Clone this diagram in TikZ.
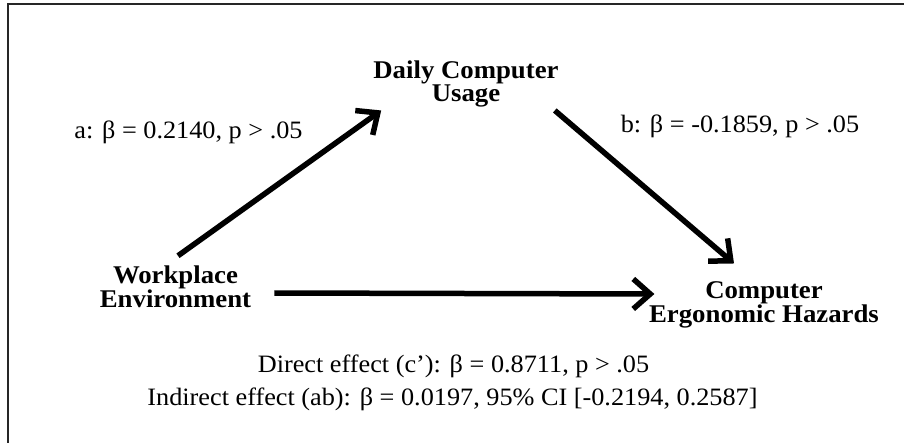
\documentclass[tikz,border=0pt]{standalone}
\usepackage{fontspec}
\setmainfont{Liberation Serif}[FakeStretch=1.05]
\usetikzlibrary{arrows.meta,positioning}

\begin{document}
\begin{tikzpicture}[x=1pt,y=-1pt,
    var/.style={font=\fontsize{25.5}{22}\selectfont\bfseries,
                align=center,inner sep=3pt},
    coef/.style={font=\fontsize{25}{33}\selectfont,inner sep=0pt},
    arr/.style={-{Straight Barb[length=17pt,width=30pt]},line width=5.5pt},
]

\useasboundingbox (0,0) rectangle (904,443);

% ---- Frame ----------------------------------------------------------------
\draw[line width=2pt,black!85] (8,4) rectangle (930,470);

% ---- Variables ------------------------------------------------------------
\node[var] (usage) at (466,84)    {Daily Computer\\Usage};
\node[var] (env)   at (175.5,287) {Workplace\\Environment};
\node[var] (haz)   at (764,305)   {Computer\\Ergonomic Hazards};

% ---- Paths ----------------------------------------------------------------
\draw[arr] ([shift={(2.5,-7)}]env.north) -- ([shift={(11,0)}]usage.south west);
\draw[arr] ([shift={(-7,0)}]usage.south east) -- ([shift={(-30,-15)}]haz.north);
\draw[arr] ([shift={(20,6)}]env.east) -- ([shift={(8.5,-11)}]haz.west);

% ---- Coefficients ---------------------------------------------------------
\node[coef,anchor=base] (pa) at (188.5,139) {a: β = 0.2140, p > .05};
\node[coef,anchor=base] (pb) at (740,133)   {b: β = -0.1859, p > .05};
\node[coef,anchor=base] (direct)   at (453.5,372)
    {Direct effect (c’): β = 0.8711, p > .05};
\node[coef,anchor=base] (indirect) at (452.5,405)
    {Indirect effect (ab): β = 0.0197, 95\% CI [-0.2194, 0.2587]};

\end{tikzpicture}
\end{document}
